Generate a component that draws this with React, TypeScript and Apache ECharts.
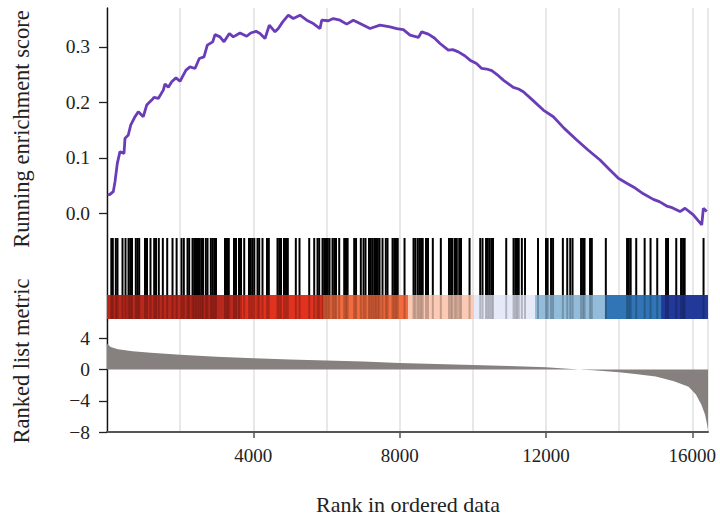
import React, { useEffect, useRef } from 'react';
import * as echarts from 'echarts';

const X_MAX = 16430;
const X_TICKS = [4000, 8000, 12000, 16000];
const ES_TICKS = [0, 0.1, 0.2, 0.3];
const METRIC_TICKS = [-8, -4, 0, 4];

const ES_RANKS = [30, 63, 172, 219, 282, 355, 465, 492, 582, 648, 766, 856, 992, 1085, 1222, 1285, 1403, 1539, 1586, 1676, 1769, 1886, 1996, 2160, 2269, 2406, 2523, 2652, 2742, 2890, 2953, 3089, 3199, 3344, 3453, 3636, 3819, 3929, 4074, 4183, 4320, 4437, 4593, 4683, 4804, 4957, 5094, 5277, 5460, 5640, 5823, 5870, 6050, 6187, 6370, 6553, 6734, 6917, 7190, 7464, 7737, 7920, 8101, 8284, 8511, 8604, 8784, 8950, 9104, 9331, 9450, 9605, 9780, 9924, 10100, 10244, 10380, 10518, 10700, 10835, 11108, 11250, 11382, 11650, 11928, 12202, 12500, 12842, 13150, 13479, 13750, 13979, 14209, 14450, 14663, 14936, 15100, 15302, 15450, 15666, 15802, 16029, 16259, 16303, 16396];
const ES_VALUES = [0.035, 0.033, 0.039, 0.057, 0.09, 0.111, 0.108, 0.135, 0.141, 0.159, 0.174, 0.183, 0.174, 0.195, 0.204, 0.209, 0.207, 0.222, 0.233, 0.227, 0.237, 0.244, 0.238, 0.258, 0.264, 0.261, 0.279, 0.282, 0.303, 0.309, 0.322, 0.318, 0.309, 0.324, 0.318, 0.325, 0.319, 0.325, 0.328, 0.324, 0.315, 0.339, 0.327, 0.333, 0.345, 0.357, 0.351, 0.357, 0.348, 0.342, 0.333, 0.348, 0.347, 0.351, 0.348, 0.341, 0.348, 0.342, 0.333, 0.339, 0.336, 0.333, 0.331, 0.321, 0.317, 0.327, 0.323, 0.316, 0.306, 0.294, 0.295, 0.291, 0.284, 0.276, 0.27, 0.261, 0.26, 0.257, 0.248, 0.24, 0.227, 0.224, 0.219, 0.203, 0.186, 0.174, 0.153, 0.132, 0.114, 0.096, 0.078, 0.063, 0.054, 0.045, 0.035, 0.025, 0.021, 0.013, 0.01, 0.003, 0.009, -0.003, -0.021, 0.009, 0.003];

const HITS = [118, 159, 241, 287, 424, 506, 588, 634, 684, 787, 834, 880, 1039, 1094, 1189, 1290, 1340, 1416, 1526, 1646, 1791, 1903, 2037, 2100, 2201, 2247, 2338, 2384, 2433, 2488, 2537, 2584, 2625, 2701, 2748, 2838, 2884, 2931, 2980, 3226, 3281, 3330, 3472, 3527, 3609, 3664, 3751, 3882, 3931, 3978, 4027, 4115, 4161, 4251, 4374, 4424, 4661, 4708, 4757, 4839, 4894, 4943, 5162, 5263, 5528, 5665, 5755, 5801, 5892, 5938, 5987, 6036, 6083, 6165, 6212, 6261, 6348, 6485, 6534, 6578, 6758, 6808, 6939, 7013, 7067, 7163, 7212, 7259, 7308, 7354, 7404, 7450, 7532, 7622, 7669, 7806, 7852, 7901, 7948, 8134, 8380, 8426, 8489, 8536, 8585, 8631, 8721, 8776, 8907, 9126, 9350, 9405, 9446, 9514, 9563, 9629, 9678, 9911, 10203, 10266, 10362, 10411, 10460, 10509, 10553, 10914, 11114, 11163, 11209, 11256, 11341, 11428, 11783, 12002, 12046, 12139, 12194, 12462, 12582, 12664, 12727, 12959, 13014, 13055, 13205, 13254, 13637, 14217, 14266, 14316, 14468, 14698, 14859, 15042, 15283, 15337, 15562, 15693, 15748, 15792, 16308];

const COLOR_BAR_BREAKS = [0, 3636, 5905, 8229, 10034, 11702, 13615, 15146, 16430];
const COLOR_BAR_COLORS = ['#b8281d', '#e0321f', '#f26b3f', '#fbc9b4', '#e6e9f8', '#93bcdb', '#3175b6', '#22399a'];

const METRIC_RANKS = [0, 100, 300, 700, 1200, 2000, 3000, 4000, 5000, 6000, 7000, 8000, 9000, 10000, 11000, 12000, 12500, 12900, 13300, 14000, 14500, 15000, 15500, 15900, 16100, 16250, 16350, 16430];
const METRIC_VALUES = [3.3, 2.9, 2.6, 2.35, 2.15, 1.9, 1.65, 1.46, 1.3, 1.16, 1.02, 0.85, 0.72, 0.6, 0.45, 0.3, 0.15, 0, -0.1, -0.35, -0.6, -0.9, -1.5, -2.2, -3.2, -4.5, -5.8, -7.6];

// layout of the barcode panel (pixel-offset units inside its grid)
const BAR_TOP = 82;
const BAR_SPLIT = 25;
const BAR_BOTTOM = 1;

export default function App() {
  const ref = useRef<HTMLDivElement>(null);
  useEffect(() => {
    const chart = echarts.init(ref.current!, null, { renderer: 'svg' });
    const FONT = 'Liberation Serif';
    const TXT = '#222';
    const split = { show: true, lineStyle: { color: '#e2e2e2', width: 1.6 } };
    const hiddenX = (gridIndex: number, position?: string) => ({
      type: 'value', gridIndex, min: 0, max: X_MAX, interval: 2000,
      position: position || 'bottom',
      axisLine: { show: false }, axisTick: { show: false }, axisLabel: { show: false },
      splitLine: split,
    });
    const leftLine = { show: true, onZero: false, lineStyle: { color: '#111', width: 1.4 } };

    chart.setOption({
      animation: false,
      grid: [
        { left: 107, right: 12, top: 8, height: 228 },
        { left: 107, right: 12, top: 236, height: 84 },
        { left: 107, right: 12, top: 320, height: 112 },
      ],
      xAxis: [
        hiddenX(0),
        hiddenX(1),
        {
          type: 'value', gridIndex: 2, min: 0, max: X_MAX, interval: 4000,
          axisLine: { show: true, onZero: false, lineStyle: { color: '#555', width: 2 } },
          axisTick: { show: true, customValues: X_TICKS, length: 6, lineStyle: { color: '#555', width: 1.5 } },
          axisLabel: { show: true, customValues: X_TICKS, margin: 14, fontFamily: FONT, fontSize: 19, color: TXT, formatter: (v: number) => String(v) },
          splitLine: { show: false },
        },
        hiddenX(2, 'top'),
      ],
      yAxis: [
        {
          type: 'value', gridIndex: 0, min: -0.041, max: 0.37,
          axisLine: leftLine,
          axisTick: { show: true, customValues: ES_TICKS, length: 8, lineStyle: { color: '#222', width: 1.3 } },
          axisLabel: { show: true, customValues: ES_TICKS, margin: 17, fontFamily: FONT, fontSize: 19.5, color: TXT, formatter: (v: number) => v.toFixed(1) },
          splitLine: { show: false },
        },
        {
          type: 'value', gridIndex: 1, min: 0, max: 84,
          axisLine: leftLine, axisTick: { show: false }, axisLabel: { show: false }, splitLine: { show: false },
        },
        {
          type: 'value', gridIndex: 2, min: -8, max: 6.35,
          axisLine: leftLine,
          axisTick: { show: true, customValues: METRIC_TICKS, length: 8, lineStyle: { color: '#222', width: 1.3 } },
          axisLabel: { show: true, customValues: METRIC_TICKS, margin: 17, fontFamily: FONT, fontSize: 19.5, color: TXT, formatter: (v: number) => String(v).replace('-', '\u2212') },
          splitLine: { show: false },
        },
      ],
      graphic: [
        { type: 'text', x: 21, y: 129, rotation: Math.PI / 2, style: { text: 'Running enrichment score', fontFamily: FONT, fontSize: 22.5, fill: TXT, align: 'center', verticalAlign: 'middle' } },
        { type: 'text', x: 21, y: 361, rotation: Math.PI / 2, style: { text: 'Ranked list metric', fontFamily: FONT, fontSize: 22.5, fill: TXT, align: 'center', verticalAlign: 'middle' } },
        { type: 'text', x: 408, y: 504, style: { text: 'Rank in ordered data', fontFamily: FONT, fontSize: 22, fill: TXT, align: 'center', verticalAlign: 'middle' } },
      ],
      series: [
        {
          type: 'line', xAxisIndex: 0, yAxisIndex: 0, showSymbol: false,
          data: ES_RANKS.map((r, i) => [r, ES_VALUES[i]]),
          lineStyle: { color: '#6a3cb8', width: 2.8 },
        },
        {
          type: 'custom', xAxisIndex: 1, yAxisIndex: 1, z: 2,
          encode: { x: [0, 1], y: 2 },
          data: COLOR_BAR_COLORS.map((c, i) => [COLOR_BAR_BREAKS[i], COLOR_BAR_BREAKS[i + 1], i]),
          renderItem: (_p: any, api: any) => {
            const s = api.coord([api.value(0), BAR_SPLIT]);
            const e = api.coord([api.value(1), BAR_BOTTOM]);
            return { type: 'rect', shape: { x: s[0], y: s[1], width: e[0] - s[0], height: e[1] - s[1] }, style: { fill: COLOR_BAR_COLORS[api.value(2)] } };
          },
        },
        {
          type: 'custom', xAxisIndex: 1, yAxisIndex: 1, z: 3,
          encode: { x: 0, y: 1 },
          data: HITS.map((h) => [h, BAR_BOTTOM]),
          renderItem: (_p: any, api: any) => {
            const a = api.coord([api.value(0), BAR_TOP]);
            const b = api.coord([api.value(0), BAR_SPLIT]);
            return { type: 'line', shape: { x1: a[0], y1: a[1], x2: b[0], y2: b[1] }, style: { stroke: '#000', lineWidth: 2 } };
          },
        },
        {
          type: 'custom', xAxisIndex: 1, yAxisIndex: 1, z: 4,
          encode: { x: 0, y: 1 },
          data: HITS.map((h) => [h, BAR_BOTTOM]),
          renderItem: (_p: any, api: any) => {
            const a = api.coord([api.value(0), BAR_SPLIT]);
            const b = api.coord([api.value(0), BAR_BOTTOM]);
            return { type: 'line', shape: { x1: a[0], y1: a[1], x2: b[0], y2: b[1] }, style: { stroke: 'rgba(0,0,0,0.22)', lineWidth: 2 } };
          },
        },
        {
          type: 'line', xAxisIndex: 2, yAxisIndex: 2, showSymbol: false,
          data: METRIC_RANKS.map((r, i) => [r, METRIC_VALUES[i]]),
          lineStyle: { width: 0 },
          areaStyle: { color: '#86817f', opacity: 1 },
        },
      ],
    });
    return () => chart.dispose();
  }, []);
  return <div ref={ref} style={{ position: 'absolute', left: 0, top: 0, width: 720, height: 523 }} />;
}
